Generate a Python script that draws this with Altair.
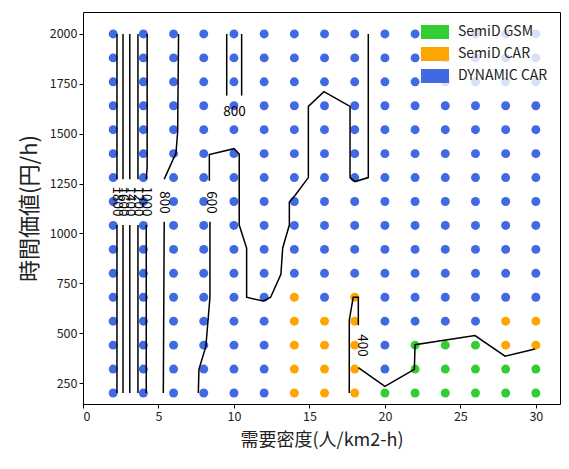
import altair as alt
import pandas as pd

FONT = "Noto Sans CJK JP"

# ---- data ----
x_vals = [2, 4, 6, 8, 10, 12, 14, 16, 18, 20, 22, 24, 26, 28, 30]
y_vals = [200, 320, 440, 560, 680, 800, 920, 1040, 1160, 1280, 1400, 1520, 1640, 1760, 1880, 2000]

# category code per row (B = DYNAMIC CAR, O = SemiD CAR, G = SemiD GSM); rows not listed are all B
row_codes = {
    200: "BBBBBBOOOGGGGGG",
    320: "BBBBBBOOOBGGGGG",
    440: "BBBBBBOOOBGGGOO",
    560: "BBBBBBOOOBBBBOO",
    680: "BBBBBBOBOBBBBBB",
}
code_names = {"B": "DYNAMIC CAR", "O": "SemiD CAR", "G": "SemiD GSM"}
legend_order = ["SemiD GSM", "SemiD CAR", "DYNAMIC CAR"]
legend_colors = ["#32CD32", "#FFA500", "#4169E1"]

# contour polylines (x, y) in data units, split where the inline labels sit
contour_paths = [
    [(2.25, 2000), (2.25, 1272)], [(2.25, 1042), (2.25, 200)],
    [(2.65, 2000), (2.65, 1272)], [(2.65, 1042), (2.65, 200)],
    [(3.10, 2000), (3.10, 1272)], [(3.10, 1042), (3.10, 200)],
    [(3.64, 2000), (3.64, 1272)], [(3.64, 1042), (3.64, 200)],
    [(4.25, 2000), (4.25, 1330), (4.19, 1272)], [(4.19, 1042), (4.19, 200)],
    [(6.33, 2000), (6.27, 1510), (6.16, 1403), (5.38, 1272)], [(5.38, 1058), (5.32, 200)],
    [(9.52, 2000), (9.52, 1691)], [(10.51, 1691), (10.51, 2000)],
    [(7.64, 200), (7.68, 319), (8.14, 434), (8.41, 680), (8.41, 1058)],
    [(8.37, 1264), (8.37, 1395), (10.0, 1425), (10.35, 1398), (10.35, 1042), (10.84, 927),
     (10.84, 680), (11.94, 661), (12.43, 680), (13.11, 795), (13.23, 927), (13.67, 1042),
     (13.67, 1157), (14.04, 1190), (14.93, 1280), (14.93, 1637), (15.96, 1711), (17.69, 1637),
     (17.69, 1280), (18.02, 1260), (18.9, 1280), (18.9, 2000)],
    [(17.64, 200), (17.64, 565), (17.9, 680), (18.24, 680), (18.24, 540)],
    [(18.24, 327), (20.0, 233), (21.95, 319), (22.0, 442), (25.97, 488), (27.96, 385), (29.95, 421)],
]

label_text = ["1800", "1600", "1400", "1200", "1000", "800", "600", "800", "400"]
label_x = [2.25, 2.65, 3.10, 3.64, 4.19, 5.38, 8.45, 10.03, 18.45]
label_y = [1160, 1160, 1160, 1160, 1160, 1155, 1155, 1610, 438]
label_angle = [90, 90, 90, 90, 90, 90, 90, 0, 90]

# ---- tables ----
pts = []
for y in y_vals:
    codes = row_codes.get(y, "B" * len(x_vals))
    for x, c in zip(x_vals, codes):
        pts.append({"x": x, "y": y, "cls": code_names[c]})
pts_df = pd.DataFrame(pts)

line_rows = []
for seg, path in enumerate(contour_paths):
    for i, (x, y) in enumerate(path):
        line_rows.append({"seg": seg, "ord": i, "x": x, "y": y})
line_df = pd.DataFrame(line_rows)

lab_df = pd.DataFrame({"x": label_x, "y": label_y, "text": label_text, "angle": label_angle})

xscale = alt.Scale(domain=[0, 31.6], nice=False, zero=False)
yscale = alt.Scale(domain=[145, 2110], nice=False, zero=False)

xaxis = alt.Axis(values=[0, 5, 10, 15, 20, 25, 30], title="需要密度(人/km2-h)", grid=False, format="d",
                 titleFontSize=18, titlePadding=9)
yaxis = alt.Axis(values=[250, 500, 750, 1000, 1250, 1500, 1750, 2000], title="時間価値(円/h)",
                 grid=False, format="d", titleFontSize=22, titlePadding=8)

points = alt.Chart(pts_df).mark_circle(size=80, opacity=1).encode(
    x=alt.X("x:Q", scale=xscale, axis=xaxis),
    y=alt.Y("y:Q", scale=yscale, axis=yaxis),
    color=alt.Color(
        "cls:N",
        scale=alt.Scale(domain=legend_order, range=legend_colors),
        legend=alt.Legend(
            title=None,
            orient="none",
            legendX=339,
            legendY=7,
            symbolType="M-2,-1H2V1H-2Z",
            symbolSize=196,
            symbolStrokeWidth=0,
            symbolOpacity=1,
            fillColor="rgba(255,255,255,0.8)",
            padding=6,
            cornerRadius=3,
            labelFont=FONT,
            labelFontSize=14,
            labelColor="#222",
            labelOffset=16,
            rowPadding=8,
        ),
    ),
)

lines = alt.Chart(line_df).mark_line(color="black", strokeWidth=1.5).encode(
    x=alt.X("x:Q", scale=xscale),
    y=alt.Y("y:Q", scale=yscale),
    detail="seg:N",
    order="ord:Q",
)

labels = alt.Chart(lab_df).mark_text(
    font=FONT, fontSize=13.5, color="black", align="center", baseline="middle"
).encode(
    x=alt.X("x:Q", scale=xscale),
    y=alt.Y("y:Q", scale=yscale),
    text="text:N",
    angle=alt.Angle("angle:Q", scale=None),
)

chart = (
    alt.layer(points, lines, labels)
    .properties(
        width=477,
        height=392,
        autosize=alt.AutoSizeParams(type="none"),
        padding={"left": 75, "top": 4, "right": 1, "bottom": 50},
    )
    .configure_view(stroke="black", strokeWidth=1)
    .configure_axis(
        domain=False,
        ticks=True,
        tickColor="black",
        tickSize=4,
        tickWidth=1,
        labelFont=FONT,
        labelFontSize=12.5,
        labelColor="#222",
        labelPadding=2,
        titleFont=FONT,
        titleFontWeight="normal",
        titleColor="#222",
    )
)

chart.save("out.html", embed_options={"renderer": "svg", "actions": False})
